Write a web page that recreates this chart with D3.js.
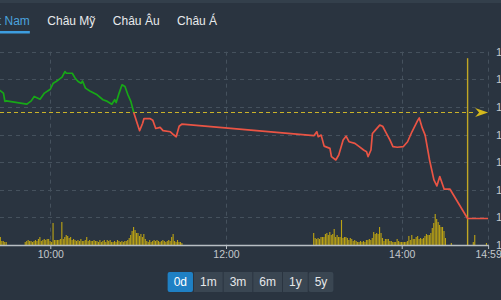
<!DOCTYPE html>
<html>
<head>
<meta charset="utf-8">
<script src="https://cdn.jsdelivr.net/npm/d3@7/dist/d3.min.js"></script>
<style>
body { margin: 0; background: #2a3440; overflow: hidden; }
svg { display: block; font-family: "Liberation Sans", Arial, sans-serif; }
</style>
</head>
<body>
<div id="chart"></div>
<script>
// tabs, range buttons, axis ticks
var tabLabels = ["Việt Nam", "Châu Mỹ", "Châu Âu", "Châu Á"];
var rangeLabels = ["0d", "1m", "3m", "6m", "1y", "5y"];
var timeTicks = ["10:00", "12:00", "14:00", "14:59"];
var priceTicks = [1260, 1265, 1270, 1275, 1280, 1285, 1290, 1295];
var refPrice = 1284.0;
var closeMarkTime = "14:45";

// intraday index
var priceTimes = ["09:25","09:28","09:29","09:30","09:44","09:47","09:49","09:53","09:56","10:00",
  "10:02","10:04","10:06","10:08","10:10","10:11","10:15","10:17","10:19","10:21",
  "10:22","10:24","10:27","10:32","10:36","10:39","10:42","10:44","10:45","10:47",
  "10:49","10:51","10:53","10:55","10:57","10:59","11:01","11:03","11:04","11:08",
  "11:10","11:12","11:15","11:17","11:22","11:24","11:26","11:28","11:30","13:00",
  "13:02","13:03","13:05","13:07","13:11","13:12","13:15","13:17","13:20","13:22",
  "13:24","13:28","13:31","13:34","13:36","13:37","13:39","13:40","13:42","13:45",
  "13:47","13:49","13:52","13:54","13:57","14:01","14:04","14:07","14:11","14:12",
  "14:14","14:16","14:19","14:22","14:24","14:26","14:29","14:33","14:45","14:59"];
var priceValues = [1288.1,1287.5,1286.0,1286.1,1285.5,1286.1,1286.9,1286.4,1287.5,1288.2,
  1289.3,1289.6,1290.0,1290.4,1291.4,1291.1,1291.1,1290.2,1289.6,1289.3,
  1289.7,1288.4,1287.9,1287.2,1286.3,1286.0,1285.5,1286.3,1285.8,1287.5,
  1289.0,1288.7,1287.2,1286.0,1284.0,1282.3,1280.7,1282.0,1282.9,1282.9,
  1282.6,1281.1,1281.3,1280.7,1280.5,1280.0,1279.6,1281.5,1281.9,1279.8,
  1280.5,1279.6,1279.9,1277.9,1277.5,1276.0,1275.4,1276.3,1279.0,1279.7,
  1278.7,1278.4,1277.8,1277.2,1276.9,1276.0,1277.2,1280.2,1280.8,1281.7,
  1281.5,1280.5,1279.0,1277.8,1277.7,1277.8,1278.7,1280.5,1282.6,1283.0,
  1281.2,1279.9,1275.4,1271.8,1270.7,1272.4,1270.1,1270.1,1264.8,1264.8];

// volume per minute, by block (first bar time + values)
var volOpenStart = "09:26";
var volOpen = [8,4,4,3,3];
var volMorningStart = "09:43";
var volMorning = [3,4,5,4,4,3,4,5,4,6, 8,4,5,6,5,6,6,4,3,22, 5,5,5,5,6,23,6,8,10,9,
  7,8,5,6,5,4,5,4,6,4, 4,5,8,4,5,4,4,5,4,4, 3,5,3,4,5,3,5,4,5,3,
  3,4,3,5,4,3,4,3,4,4, 5,7,10,14,18,15,12,12,9,11, 8,11,6,4,3,5,3,4,5,4,
  5,4,3,4,5,4,3,4,5,4, 8,11,4,3,5,3,3,2];
var volAfternoonStart = "13:00";
var volAfternoon = [12,7,6,7,6,8,8,8,11,12, 10,13,10,11,16,8,10,8,8,25,
  7,8,8,7,5,7,6,4,5,4, 3,3,4,3,4,3,5,5,6,5, 7,13,11,12,11,18,12,7,4,6,
  6,6,4,4,3,3,3,6,4,3, 3,3,3,3,4,9,5,10,6,6, 8,9,6,7,6,7,9,11,10,10,
  12,17,22,31,26,23,20,18,18,14, 7];
var volLateTimes = ["14:34", "14:49", "14:50", "14:58"];
var volLate = [2, 3, 10, 2];

var W = 501, H = 300;
var bg = "#2a3440";

var parseTime = d3.timeParse("%H:%M");

var svg = d3.select("#chart").append("svg")
  .attr("width", W)
  .attr("height", H);

svg.append("rect").attr("width", W).attr("height", H).attr("fill", bg);
svg.append("rect").attr("width", W).attr("height", 3).attr("fill", "#333f4b");

// scales
var x = d3.scaleTime()
  .domain([parseTime("10:00"), parseTime("14:59")])
  .range([50.3, 488.1]);
var y = d3.scaleLinear().domain([1260, 1295]).range([245, 51.7]);
var yVol = d3.scaleLinear().domain([0, 30]).range([245, 215]);

var xEnd = x(parseTime("14:59"));

// grid
var grid = svg.append("g")
  .attr("stroke", "#45515d")
  .attr("stroke-dasharray", "4,4")
  .attr("stroke-width", 1);

grid.selectAll(".hg")
  .data(priceTicks.slice(1))
  .enter().append("line")
  .attr("x1", 0).attr("x2", xEnd)
  .attr("y1", function (d) { return Math.round(y(d)) + 0.5; })
  .attr("y2", function (d) { return Math.round(y(d)) + 0.5; });

grid.selectAll(".vg")
  .data(timeTicks)
  .enter().append("line")
  .attr("x1", function (d) { return Math.round(x(parseTime(d))) + 0.5; })
  .attr("x2", function (d) { return Math.round(x(parseTime(d))) + 0.5; })
  .attr("y1", y(1295)).attr("y2", y(1260));

// volume bars
var volData = [];
function addBlock(start, values) {
  var t0 = parseTime(start);
  values.forEach(function (v, i) {
    volData.push({ t: d3.timeMinute.offset(t0, i), v: v });
  });
}
addBlock(volOpenStart, volOpen);
addBlock(volMorningStart, volMorning);
addBlock(volAfternoonStart, volAfternoon);
volLateTimes.forEach(function (t, i) {
  volData.push({ t: parseTime(t), v: volLate[i] });
});

var barStep = x(parseTime("10:01")) - x(parseTime("10:00"));

svg.append("g").selectAll("rect")
  .data(volData)
  .enter().append("rect")
  .attr("x", function (d) { return x(d.t) - barStep / 2; })
  .attr("width", barStep - 0.35)
  .attr("y", function (d) { return yVol(d.v); })
  .attr("height", function (d) { return yVol(0) - yVol(d.v); })
  .attr("fill", "#bba214");

// reference price line + arrow
var refY = Math.round(y(refPrice)) + 0.5;
svg.append("line")
  .attr("x1", 0).attr("x2", xEnd - 13)
  .attr("y1", refY).attr("y2", refY)
  .attr("stroke", "#c9b22a")
  .attr("stroke-width", 1)
  .attr("stroke-dasharray", "4,3");

svg.append("path")
  .attr("d", "M" + (xEnd - 13) + "," + (refY - 4.5) +
    " L" + xEnd + "," + refY +
    " L" + (xEnd - 13) + "," + (refY + 4.5) +
    " L" + (xEnd - 9) + "," + refY + " Z")
  .attr("fill", "#d4b81c");

// close marker
var xMark = x(parseTime(closeMarkTime));
svg.append("line")
  .attr("x1", xMark).attr("x2", xMark)
  .attr("y1", y(1295) + 6.5).attr("y2", y(1260))
  .attr("stroke", "#c2a824")
  .attr("stroke-width", 1.4);

// price line, green above ref, red below
var priceData = priceTimes.map(function (t, i) {
  return { t: parseTime(t), p: priceValues[i] };
});

var defs = svg.append("defs");
defs.append("clipPath").attr("id", "clip-up")
  .append("rect").attr("x", 0).attr("y", 0).attr("width", W).attr("height", y(refPrice));
defs.append("clipPath").attr("id", "clip-down")
  .append("rect").attr("x", 0).attr("y", y(refPrice)).attr("width", W).attr("height", H);

var priceLine = d3.line()
  .x(function (d) { return x(d.t); })
  .y(function (d) { return y(d.p); });

svg.append("path")
  .attr("d", priceLine(priceData))
  .attr("clip-path", "url(#clip-up)")
  .attr("fill", "none")
  .attr("stroke", "#17a817")
  .attr("stroke-width", 1.7)
  .attr("stroke-linejoin", "round");

svg.append("path")
  .attr("d", priceLine(priceData))
  .attr("clip-path", "url(#clip-down)")
  .attr("fill", "none")
  .attr("stroke", "#ea5444")
  .attr("stroke-width", 1.7)
  .attr("stroke-linejoin", "round");

// x axis
svg.append("line")
  .attr("x1", 0).attr("x2", xEnd + 0.5)
  .attr("y1", 245.5).attr("y2", 245.5)
  .attr("stroke", "#b8bec4")
  .attr("stroke-width", 1.3);

var xAxis = d3.axisBottom(x)
  .tickValues(timeTicks.map(parseTime))
  .tickSize(4)
  .tickPadding(2)
  .tickFormat(d3.timeFormat("%H:%M"));

var gx = svg.append("g")
  .attr("transform", "translate(0,245)")
  .call(xAxis);
gx.select(".domain").remove();
gx.selectAll("line").attr("stroke", "#b8bec4");
gx.selectAll("text")
  .attr("fill", "#c4c8cc")
  .style("font-size", "10.5px")
  .style("font-family", "Liberation Sans, Arial, sans-serif");

// y axis (right, mostly cut off)
var yAxis = d3.axisRight(y)
  .tickValues(priceTicks)
  .tickSize(0)
  .tickPadding(8)
  .tickFormat(d3.format(","));

var gy = svg.append("g")
  .attr("transform", "translate(" + xEnd + ",0)")
  .call(yAxis);
gy.select(".domain").remove();
gy.selectAll("text")
  .attr("fill", "#c4c8cc")
  .style("font-size", "11px")
  .style("font-family", "Liberation Sans, Arial, sans-serif");

// tabs
var tabX = -19.3;
tabLabels.forEach(function (label, i) {
  var t = svg.append("text")
    .attr("x", tabX)
    .attr("y", 25)
    .attr("fill", i === 0 ? "#4ba3de" : "#e8eaec")
    .style("font-size", "12px")
    .text(label);
  var w = t.node().getComputedTextLength();
  if (i === 0) {
    svg.append("rect")
      .attr("x", tabX).attr("y", 31)
      .attr("width", w).attr("height", 2.5)
      .attr("fill", "#3d9ddf");
  }
  tabX += w + 17.5;
});

// range buttons
var btnG = svg.append("g");
var widths = [];
var tmp = svg.append("text").style("font-size", "12px");
rangeLabels.forEach(function (l) {
  tmp.text(l);
  widths.push(tmp.node().getComputedTextLength() + 13);
});
tmp.remove();
var total = d3.sum(widths);
var bx = 251 - total / 2;
rangeLabels.forEach(function (l, i) {
  var active = i === 0;
  btnG.append("rect")
    .attr("x", bx).attr("y", 272)
    .attr("width", widths[i] - 1).attr("height", 20)
    .attr("rx", (i === 0 || i === rangeLabels.length - 1) ? 2 : 0)
    .attr("fill", active ? "#1f80c4" : "#3a4652");
  btnG.append("text")
    .attr("x", bx + (widths[i] - 1) / 2)
    .attr("y", 286)
    .attr("text-anchor", "middle")
    .attr("fill", active ? "#ffffff" : "#e6e8ea")
    .style("font-size", "12px")
    .text(l);
  bx += widths[i];
});
</script>
</body>
</html>
